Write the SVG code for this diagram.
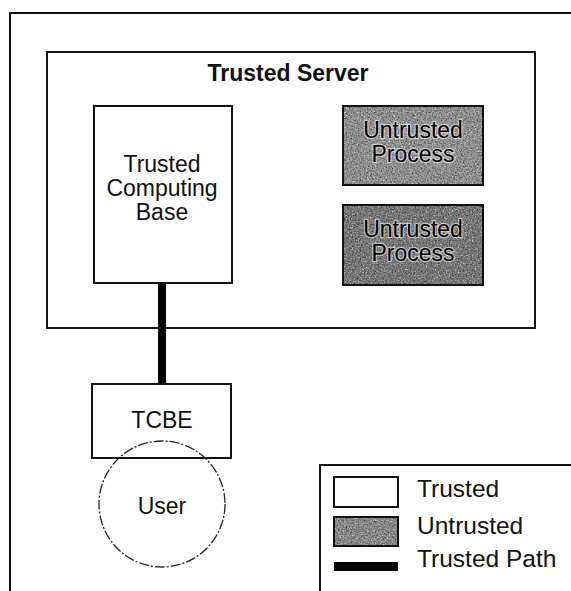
<svg xmlns="http://www.w3.org/2000/svg" width="571" height="591" viewBox="0 0 571 591">
  <style>
    .box { stroke: #111; stroke-width: 2; }
    .frame { fill: none; stroke: #111; stroke-width: 2; }
    .lbl { font-family: "Liberation Sans", Arial, sans-serif; font-size: 23px; fill: #111; text-anchor: middle; }
    .halo { fill: #000; stroke: #fff; stroke-width: 2.5; stroke-opacity: 0.55; paint-order: stroke; }
    .leg { font-family: "Liberation Sans", Arial, sans-serif; font-size: 24.5px; fill: #111; }
  </style>
  <defs>
    <filter id="grain" x="0" y="0" width="1" height="1">
      <feTurbulence type="fractalNoise" baseFrequency="0.65" numOctaves="2" seed="3" result="n"/>
      <feColorMatrix in="n" type="matrix" values="0 0 0 0 0  0 0 0 0 0  0 0 0 0 0  1.6 0 0 0 -0.5" result="dots"/>
      <feComposite in="dots" in2="SourceGraphic" operator="in" result="d"/>
      <feMerge><feMergeNode in="SourceGraphic"/><feMergeNode in="d"/></feMerge>
    </filter>
    <filter id="grainL" x="0" y="0" width="1" height="1">
      <feTurbulence type="fractalNoise" baseFrequency="0.65" numOctaves="2" seed="7" result="n"/>
      <feColorMatrix in="n" type="matrix" values="0 0 0 0 1  0 0 0 0 1  0 0 0 0 1  -1.6 0 0 0 0.75" result="dots"/>
      <feComposite in="dots" in2="SourceGraphic" operator="in" result="d"/>
      <feMerge><feMergeNode in="SourceGraphic"/><feMergeNode in="d"/></feMerge>
    </filter>
  </defs>

  <rect width="571" height="591" fill="#fff"/>

  <!-- outer frame -->
  <path class="frame" d="M10,591 V13 H571"/>

  <g id="trusted-server">
    <rect class="box" x="47" y="52" width="488" height="276" fill="#fff"/>
    <text class="lbl" x="288" y="81" style="font-weight:bold">Trusted Server</text>
  </g>

  <g id="connectors">
    <line x1="162" y1="283" x2="162" y2="385" stroke="#000" stroke-width="8"/>
  </g>

  <g id="tcb">
    <rect class="box" x="94" y="106" width="138" height="177" fill="#fdfdfd"/>
    <text class="lbl" x="162" y="172">Trusted</text>
    <text class="lbl" x="162" y="196">Computing</text>
    <text class="lbl" x="162" y="220">Base</text>
  </g>

  <g id="untrusted-1">
    <g filter="url(#grain)"><g filter="url(#grainL)">
      <rect x="343" y="106" width="140" height="79" fill="#a2a2a2"/>
    </g></g>
    <rect class="box" x="343" y="106" width="140" height="79" fill="none"/>
    <text class="lbl halo" x="413" y="138">Untrusted</text>
    <text class="lbl halo" x="413" y="162">Process</text>
  </g>

  <g id="untrusted-2">
    <g filter="url(#grain)"><g filter="url(#grainL)">
      <rect x="343" y="205" width="140" height="80" fill="#858585"/>
    </g></g>
    <rect class="box" x="343" y="205" width="140" height="80" fill="none"/>
    <text class="lbl halo" x="413" y="237">Untrusted</text>
    <text class="lbl halo" x="413" y="261">Process</text>
  </g>

  <g id="tcbe">
    <rect class="box" x="92" y="384" width="139" height="74" fill="#fdfdfd"/>
    <text class="lbl" x="162" y="428">TCBE</text>
  </g>

  <g id="user">
    <circle cx="162" cy="504" r="63" fill="none" stroke="#222" stroke-width="1.3" stroke-dasharray="10 2 2 2"/>
    <text class="lbl" x="162" y="514">User</text>
  </g>

  <g id="legend">
    <path class="frame" d="M320,591 V465 H571"/>
    <rect class="box" x="334" y="477" width="64" height="30" fill="#fdfdfd" stroke-width="1.5"/>
    <text class="leg" x="417" y="497">Trusted</text>
    <g filter="url(#grain)"><g filter="url(#grainL)">
      <rect x="334" y="517" width="64" height="29" fill="#9a9a9a"/>
    </g></g>
    <rect class="box" x="334" y="517" width="64" height="29" fill="none" stroke-width="1.5"/>
    <text class="leg" x="417" y="534">Untrusted</text>
    <rect x="334" y="562" width="64" height="9" fill="#000"/>
    <text class="leg" x="417" y="567">Trusted Path</text>
  </g>
</svg>
